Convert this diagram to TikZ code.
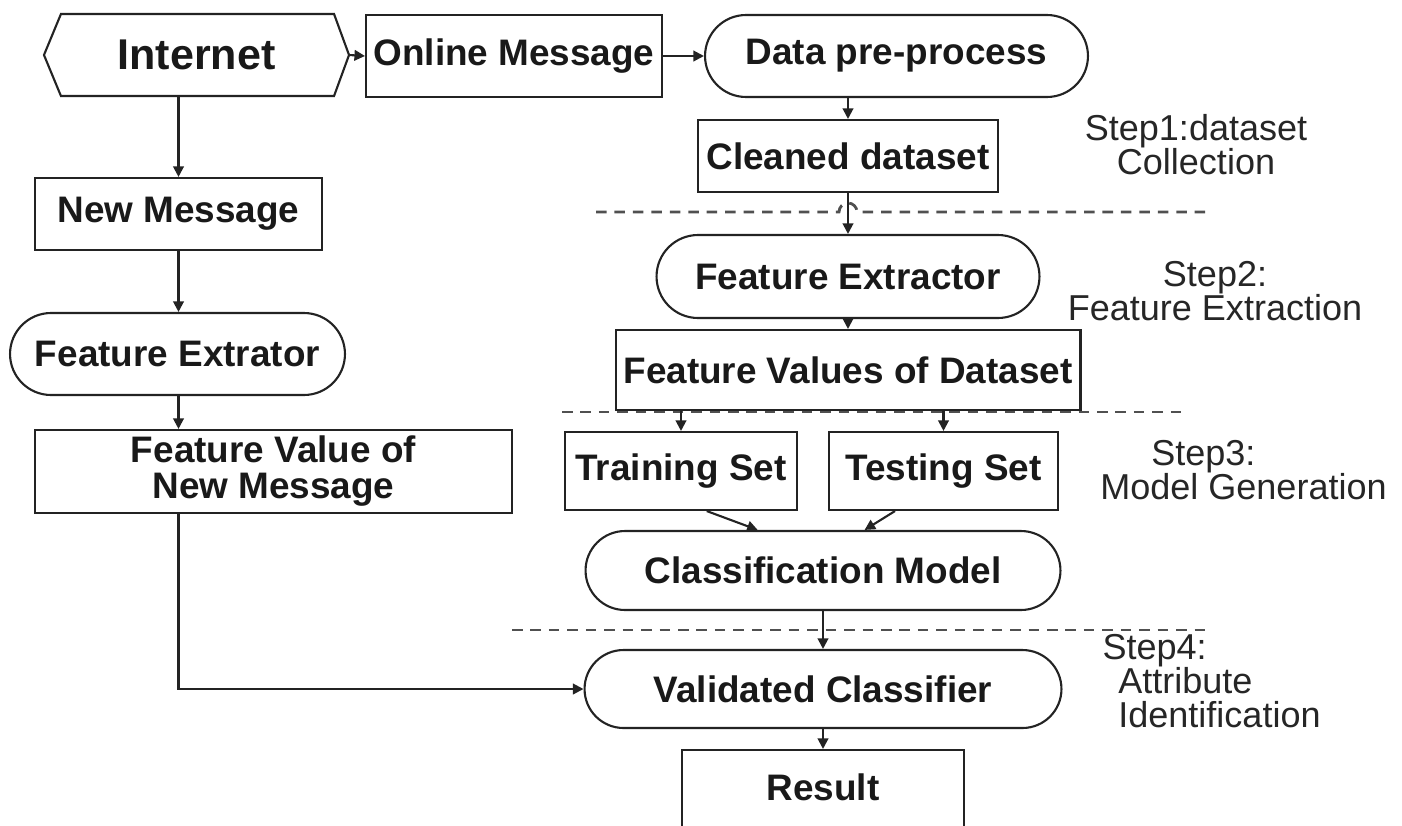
\documentclass[tikz,border=0pt]{standalone}
\usepackage{fontspec}
\setmainfont{Liberation Sans}
\usetikzlibrary{shapes.misc,arrows.meta,calc}
\definecolor{lncol}{RGB}{35,35,35}
\definecolor{sepcol}{RGB}{80,80,80}

\tikzset{
  box/.style={draw=lncol, line width=1.2pt, rectangle, align=center, inner sep=0pt,
    text=black!90, font=\bfseries\fontsize{21}{20.5}\selectfont},
  pill/.style={box, rounded rectangle, rounded rectangle arc length=180},
  arr/.style={draw=lncol, line width=1.2pt, -{Triangle[length=6pt,width=6pt]}},
  sepline/.style={draw=sepcol, line width=1.6pt, dash pattern=on 6pt off 4.5pt},
  steptext/.style={inner sep=0pt, text=black!85, font=\fontsize{20.5}{19.3}\selectfont}
}

\begin{document}
\begin{tikzpicture}[x=0.02cm,y=-0.02cm]
\useasboundingbox (0,0) rectangle (1402,825);
\clip (0,0) rectangle (1402,825);

\node[box, draw=none, minimum width=6.06cm, minimum height=1.6cm,
  font=\bfseries\fontsize{24.5}{24}\selectfont] (inet) at (196.5,55) {Internet};
\draw[lncol, line width=1.2pt] (inet.west) -- ([xshift=0.34cm]inet.north west)
  -- ([xshift=-0.3cm]inet.north east) -- (inet.east)
  -- ([xshift=-0.3cm]inet.south east) -- ([xshift=0.34cm]inet.south west) -- cycle;

\node[box, minimum width=5.92cm, minimum height=1.64cm] (online) at (514,56) {Online Message};
\node[pill, minimum width=7.66cm, minimum height=1.64cm] (prep) at (896.5,56) {Data pre-process};
\node[box, minimum width=6.0cm, minimum height=1.44cm] (clean) at (848,156) {Cleaned dataset};
\node[pill, minimum width=7.66cm, minimum height=1.66cm] (fext) at (848,276.5) {Feature Extractor};
\node[box, minimum width=9.3cm, minimum height=1.6cm] (fval) at (848,370) {Feature Values of Dataset};
\node[box, minimum width=4.64cm, minimum height=1.56cm] (train) at (681,471) {Training Set};
\node[box, minimum width=4.58cm, minimum height=1.56cm] (test) at (943.5,471) {Testing Set};
\node[pill, minimum width=9.5cm, minimum height=1.58cm] (cmodel) at (823,570.5) {Classification Model};
\node[pill, minimum width=9.54cm, minimum height=1.56cm] (valid) at (823,689) {Validated Classifier};
\node[box, minimum width=5.64cm, minimum height=2.0cm] (result) at (823,800) {};
\node[box, draw=none] (restext) at (823,787) {Result};

\node[box, minimum width=5.74cm, minimum height=1.44cm] (newmsg) at (178.5,214) {New Message};
\node[pill, minimum width=6.7cm, minimum height=1.64cm] (fextl) at (177.5,354) {Feature Extrator};
\node[box, minimum width=9.54cm, minimum height=1.66cm] (fvnew) at (273.5,471.5) {Feature Value of\\New Message};

\node[steptext, align=center] (step1) at (1196,145) {Step1:dataset\\Collection};
\node[steptext, align=center] (step2) at (1215,291.5) {Step2:\\Feature Extraction};
\node[steptext, align=left, anchor=west] (step3) at (1100,470) {\hspace*{29pt}Step3:\\Model Generation};
\node[steptext, align=left, anchor=west] (step4) at (1118,681) {\hspace*{-9pt}Step4:\\Attribute\\Identification};

\draw[sepline] (596,212) -- (839,212) arc[start angle=180, end angle=360, radius=9] -- (1210,212);
\draw[sepline] (562,412) -- (1185,412);
\draw[sepline] (512,630) -- (1205,630);

\draw[arr] (inet.east) -- (online.west);
\draw[arr] (online.east) -- (online.east -| prep.west);
\draw[arr] (clean.north |- prep.south) -- (clean.north);
\draw[arr] (clean.south) -- (fext.north);
\draw[arr] (fext.south) -- (fval.north);
\draw[arr] (train.north |- fval.south) -- (train.north);
\draw[arr] (test.north |- fval.south) -- (test.north);
\draw[arr] ($(train.south)!0.22!(train.south east)$) -- ($(cmodel.north)!0.33!(cmodel.north west)$);
\draw[arr] ($(test.south)!0.42!(test.south west)$) -- ($(cmodel.north)!0.21!(cmodel.north east)$);
\draw[arr] (cmodel.south) -- (valid.north);
\draw[arr] (valid.south) -- (result.north);

\draw[arr] (newmsg.north |- inet.south) -- (newmsg.north);
\draw[arr] (newmsg.south) -- (newmsg.south |- fextl.north);
\draw[arr] (newmsg.south |- fextl.south) -- (newmsg.south |- fvnew.north);
\draw[arr] (newmsg.south |- fvnew.south) |- (valid.west);
\end{tikzpicture}
\end{document}
